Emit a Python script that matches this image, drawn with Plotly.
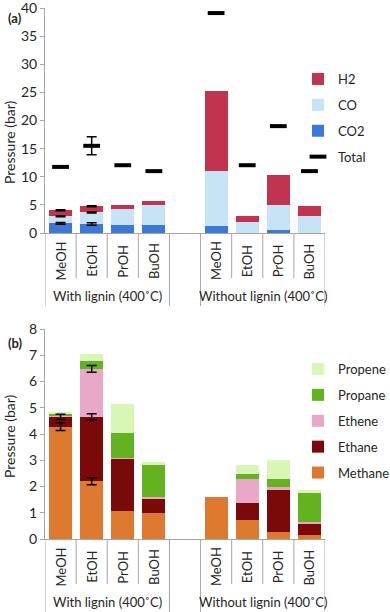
import plotly.graph_objects as go

# ---------------- data ----------------
categories = ["MeOH", "EtOH", "PrOH", "BuOH", "MeOH", "EtOH", "PrOH", "BuOH"]
groups = ["With lignin (400˚C)", "Without lignin (400˚C)"]

# panel (a): gas-phase pressures (bar), stacked segments
co2 = [1.7, 1.6, 1.4, 1.35, 1.2, 0.05, 0.45, 0.03]
co = [1.25, 2.05, 2.85, 3.7, 9.85, 1.85, 4.45, 2.92]
h2 = [1.1, 1.1, 0.75, 0.7, 14.15, 1.2, 5.5, 1.8]
total = [11.75, 15.5, 12.05, 11.0, 39.1, 12.05, 19.0, 11.0]
# error bars (bar) for the first two categories; None = no error bar
co2_err = [0.15, 0.22, None, None, None, None, None, None]
co_err = [0.08, 0.08, None, None, None, None, None, None]
h2_err = [0.1, 0.1, None, None, None, None, None, None]
total_err = [None, 1.6, None, None, None, None, None, None]

# panel (b): hydrocarbon pressures (bar), stacked segments
methane = [4.28, 2.2, 1.05, 0.99, 1.6, 0.74, 0.25, 0.14]
ethane = [0.37, 2.45, 2.0, 0.57, 0.0, 0.63, 1.6, 0.44]
ethene = [0.02, 1.83, 0.05, 0.05, 0.0, 0.93, 0.14, 0.05]
propane = [0.12, 0.31, 0.94, 1.2, 0.0, 0.16, 0.31, 1.12]
propene = [0.02, 0.27, 1.1, 0.14, 0.0, 0.35, 0.71, 0.1]
methane_err = [0.15, 0.13, None, None, None, None, None, None]
ethane_err = [0.1, 0.12, None, None, None, None, None, None]
ethene_err = [None, 0.13, None, None, None, None, None, None]

yticks_a = [0, 5, 10, 15, 20, 25, 30, 35, 40]
yticks_b = [0, 1, 2, 3, 4, 5, 6, 7, 8]

# ---------------- styling ----------------
FONT = "Lato"
AX = "#A6A6A6"
TXT = "#262626"
W, H = 390, 612

# slot positions (one empty slot between the two groups)
xpos = [i if i < 4 else i + 1 for i in range(len(categories))]

fig = go.Figure()


def bar(name, vals, color, xa, ya, legend, rank):
    fig.add_trace(go.Bar(
        x=xpos, y=vals, name=name, marker=dict(color=color, line=dict(width=0)),
        xaxis=xa, yaxis=ya, legend=legend, legendrank=rank, legendgroup=name))


def errbars(levels, errs, xa, ya):
    """Error bars drawn at the top of a stacked segment (cumulative level)."""
    xs, ys, es = [], [], []
    for xv, lv, e in zip(xpos, levels, errs):
        if e is not None:
            xs.append(xv)
            ys.append(lv)
            es.append(e)
    fig.add_trace(go.Scatter(
        x=xs, y=ys, mode="markers", marker=dict(size=1, opacity=0), showlegend=False,
        hoverinfo="skip", xaxis=xa, yaxis=ya,
        error_y=dict(type="data", array=es, color="black", thickness=1.5, width=5)))


def cum(*series):
    return [sum(v) for v in zip(*series)]


# panel (a)
bar("CO2", co2, "#3B78D8", "x", "y", "legend", 3)
bar("CO", co, "#C6E4F6", "x", "y", "legend", 2)
bar("H2", h2, "#C1334E", "x", "y", "legend", 1)
fig.add_trace(go.Scatter(
    x=xpos, y=total, name="Total", mode="markers",
    marker=dict(symbol="line-ew", size=12, line=dict(width=4, color="black"), color="black"),
    xaxis="x", yaxis="y", legend="legend", legendrank=4, legendgroup="Total"))
errbars(co2, co2_err, "x", "y")
errbars(cum(co2, co), co_err, "x", "y")
errbars(cum(co2, co, h2), h2_err, "x", "y")
errbars(total, total_err, "x", "y")

# panel (b)
bar("Methane", methane, "#DD7A30", "x2", "y2", "legend2", 5)
bar("Ethane", ethane, "#7A0A0A", "x2", "y2", "legend2", 4)
bar("Ethene", ethene, "#E9A8C8", "x2", "y2", "legend2", 3)
bar("Propane", propane, "#63B321", "x2", "y2", "legend2", 2)
bar("Propene", propene, "#D8F6B6", "x2", "y2", "legend2", 1)
errbars(methane, methane_err, "x2", "y2")
errbars(cum(methane, ethane), ethane_err, "x2", "y2")
errbars(cum(methane, ethane, ethene), ethene_err, "x2", "y2")

# ---------------- geometry ----------------
def px_x(p):
    return p / W


def px_y(p):
    return 1 - p / H


xdom = [px_x(45), px_x(325)]
ya_dom = [px_y(233), px_y(8)]
yb_dom = [px_y(539), px_y(329)]

xaxis_common = dict(range=[-0.5, 8.5], showticklabels=False, ticks="", showgrid=False,
                    zeroline=False, showline=True, linecolor=AX, linewidth=1, fixedrange=True,
                    domain=xdom, automargin=False)
yaxis_common = dict(showgrid=False, zeroline=False, showline=True, linecolor=AX, linewidth=1,
                    ticks="outside", ticklen=4, tickcolor=AX, automargin=False,
                    ticklabeloverflow="allow",
                    tickfont=dict(family=FONT, size=14, color=TXT))

leg_common = dict(xanchor="left", yanchor="top", font=dict(family=FONT, size=13, color=TXT),
                  traceorder="grouped", tracegroupgap=6, bgcolor="rgba(0,0,0,0)", itemwidth=30)

fig.update_layout(
    width=W, height=H, margin=dict(l=0, r=0, t=0, b=0, autoexpand=False),
    paper_bgcolor="white", plot_bgcolor="white",
    barmode="stack", bargap=0.26, showlegend=True,
    font=dict(family=FONT, color=TXT),
    xaxis=dict(**xaxis_common, anchor="y"),
    xaxis2=dict(**xaxis_common, anchor="y2"),
    yaxis=dict(**yaxis_common, domain=ya_dom, range=[0, 40], tickvals=yticks_a, anchor="x"),
    yaxis2=dict(**yaxis_common, domain=yb_dom, range=[0, 8], tickvals=yticks_b, anchor="x2"),
    legend=dict(x=px_x(298), y=px_y(64), **leg_common),
    legend2=dict(x=px_x(298), y=px_y(354), **leg_common),
)

# ---------------- category axis decorations ----------------
shapes = []
annotations = []
panels = [
    dict(xref="x", axis_y=233, inner_end=278, outer_end=306, cat_y=261, grp_y=296,
         title_y=142, tag="<b>(a)</b>", tag_y=18),
    dict(xref="x2", axis_y=539, inner_end=584, outer_end=612, cat_y=567, grp_y=602,
         title_y=436, tag="<b>(b)</b>", tag_y=343),
]
outer = [-0.5, 3.5, 4.5, 8.5]
inner = [0.5, 1.5, 2.5, 5.5, 6.5, 7.5]


def label(x, y, xref, text, size, angle=0):
    annotations.append(dict(x=x, y=y, xref=xref, yref="paper", text=text, textangle=angle,
                            showarrow=False, xanchor="center", yanchor="middle",
                            font=dict(family=FONT, size=size, color=TXT)))


for p in panels:
    for xv in outer:
        shapes.append(dict(type="line", xref=p["xref"], yref="paper", x0=xv, x1=xv,
                           y0=px_y(p["axis_y"]), y1=px_y(p["outer_end"]),
                           line=dict(color=AX, width=1)))
    for xv in inner:
        shapes.append(dict(type="line", xref=p["xref"], yref="paper", x0=xv, x1=xv,
                           y0=px_y(p["axis_y"]), y1=px_y(p["inner_end"]),
                           line=dict(color=AX, width=1)))
    for xv, c in zip(xpos, categories):
        label(xv, px_y(p["cat_y"]), p["xref"], c, 13, -90)
    for xv, g in zip([1.5, 6.5], groups):
        label(xv, px_y(p["grp_y"]), p["xref"], g, 13)
    label(px_x(9), px_y(p["title_y"]), "paper", "Pressure (bar)", 14, -90)
    label(px_x(15), px_y(p["tag_y"]), "paper", p["tag"], 13)

fig.update_layout(shapes=shapes, annotations=annotations)

fig.write_html(
    "out.html",
    config={"displayModeBar": False},
    post_script="document.body.style.margin='0';document.body.style.overflow='hidden';",
)
